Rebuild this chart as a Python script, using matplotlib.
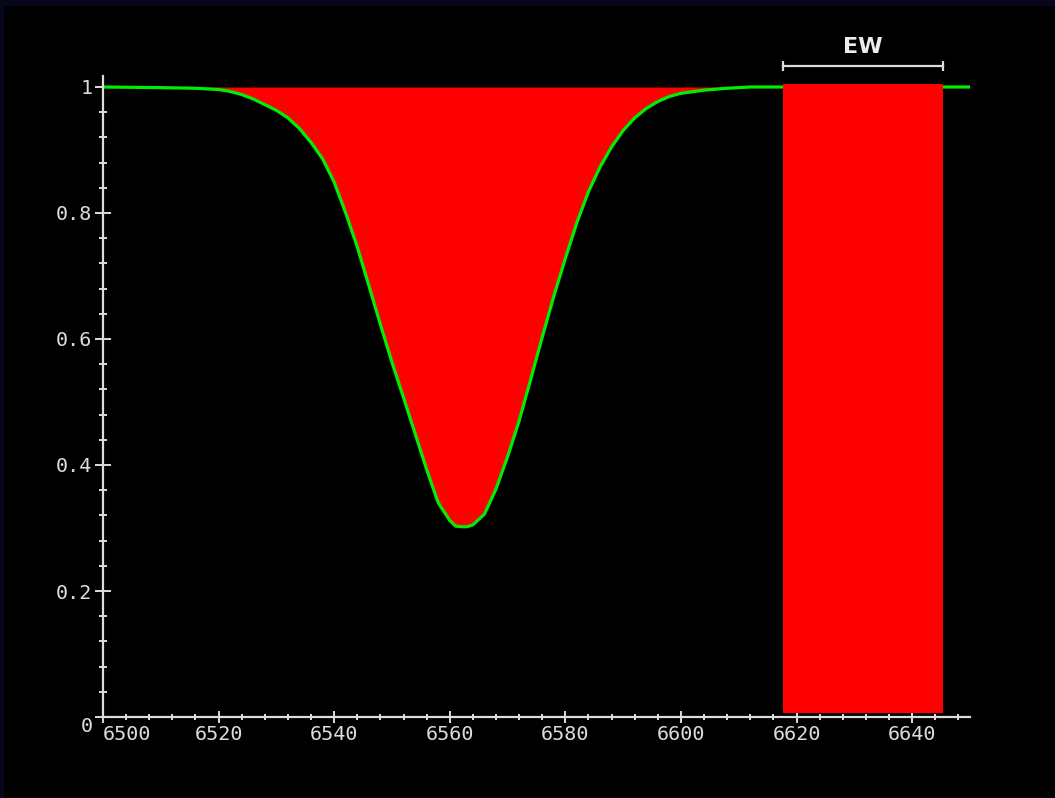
import matplotlib
matplotlib.use("Agg")
import matplotlib.pyplot as plt
from matplotlib.patches import Rectangle

# spectrum
wavelength = [6500, 6510, 6516, 6520, 6522, 6524, 6526, 6528, 6530, 6532,
              6534, 6536, 6538, 6540, 6542, 6544, 6546, 6548, 6550, 6552,
              6554, 6556, 6558, 6560, 6561, 6562, 6563, 6564, 6566, 6568,
              6570, 6572, 6574, 6576, 6578, 6580, 6582, 6584, 6586, 6588,
              6590, 6592, 6594, 6596, 6598, 6600, 6604, 6608, 6612, 6618,
              6650]
flux = [1.000, 0.999, 0.998, 0.996, 0.993, 0.988, 0.981, 0.972, 0.963, 0.951,
        0.934, 0.912, 0.886, 0.849, 0.800, 0.746, 0.685, 0.623, 0.563, 0.507,
        0.450, 0.393, 0.340, 0.312, 0.303, 0.302, 0.302, 0.305, 0.322, 0.362,
        0.413, 0.470, 0.536, 0.603, 0.668, 0.728, 0.785, 0.834, 0.873, 0.905,
        0.931, 0.951, 0.966, 0.977, 0.985, 0.990, 0.995, 0.998, 1.000, 1.000,
        1.000]

ew_left = 6617.6
ew_right = 6645.3
ew_label = "EW"

xticks = [6500, 6520, 6540, 6560, 6580, 6600, 6620, 6640]
yticks = [0, 0.2, 0.4, 0.6, 0.8, 1.0]
ytick_labels = ["0", "0.2", "0.4", "0.6", "0.8", "1"]

fg = "#dcdcdc"

fig = plt.figure(figsize=(10.55, 7.98), dpi=100, facecolor="black")
# thin dark-blue slide border
fig.patches.append(Rectangle((0, 0.994), 1, 0.006, transform=fig.transFigure,
                             color="#07071c", zorder=0))
fig.patches.append(Rectangle((0, 0), 0.003, 1, transform=fig.transFigure,
                             color="#07071c", zorder=0))

ax = fig.add_axes([0.0976, 0.1015, 0.8218, 0.8033])
ax.set_facecolor("black")

ax.fill_between(wavelength, flux, 1.0, color="#ff0000", lw=0, zorder=2)
ax.plot(wavelength, flux, color="#00ee00", lw=2.3, zorder=3)
ax.bar((ew_left + ew_right) / 2, 0.998, width=ew_right - ew_left, bottom=0.006,
       color="#ff0000", lw=0, zorder=4)

# EW bracket
ax.plot([ew_left, ew_right], [1.033, 1.033], color=fg, lw=1.6, marker="|",
        markersize=7, markeredgewidth=1.6, clip_on=False, zorder=5)
ax.text((ew_left + ew_right) / 2, 1.063, ew_label, color="#ececec",
        fontsize=16, fontweight="bold", ha="center", va="center",
        family="DejaVu Sans")

ax.set_xlim(6500, 6650)
ax.set_ylim(0, 1.0175)

for side in ["top", "right"]:
    ax.spines[side].set_visible(False)
for side in ["left", "bottom"]:
    ax.spines[side].set_color(fg)
    ax.spines[side].set_linewidth(1.6)
    ax.spines[side].set_zorder(6)

ax.set_xticks(xticks)
ax.set_xticks([x for x in range(6504, 6650, 4) if x % 20 != 0], minor=True)
ax.set_yticks(yticks)
ax.set_yticks([i * 0.04 for i in range(1, 26) if i % 5 != 0], minor=True)
ax.set_yticklabels(ytick_labels)

ax.tick_params(axis="y", which="major", direction="inout", length=12,
               width=1.4, color=fg, pad=1.5)
ax.tick_params(axis="y", which="minor", direction="inout", length=6,
               width=1.4, color=fg)
ax.tick_params(axis="x", which="major", direction="inout", length=8,
               width=1.4, color=fg, pad=1.5)
ax.tick_params(axis="x", which="minor", direction="inout", length=5,
               width=1.4, color=fg)
ax.tick_params(labelcolor=fg, labelsize=14.5)

for lab in ax.get_xticklabels() + ax.get_yticklabels():
    lab.set_family("DejaVu Sans Mono")
ax.get_xticklabels()[0].set_ha("left")
ax.get_yticklabels()[0].set_va("top")

fig.savefig("out.png", dpi=100, facecolor=fig.get_facecolor())
